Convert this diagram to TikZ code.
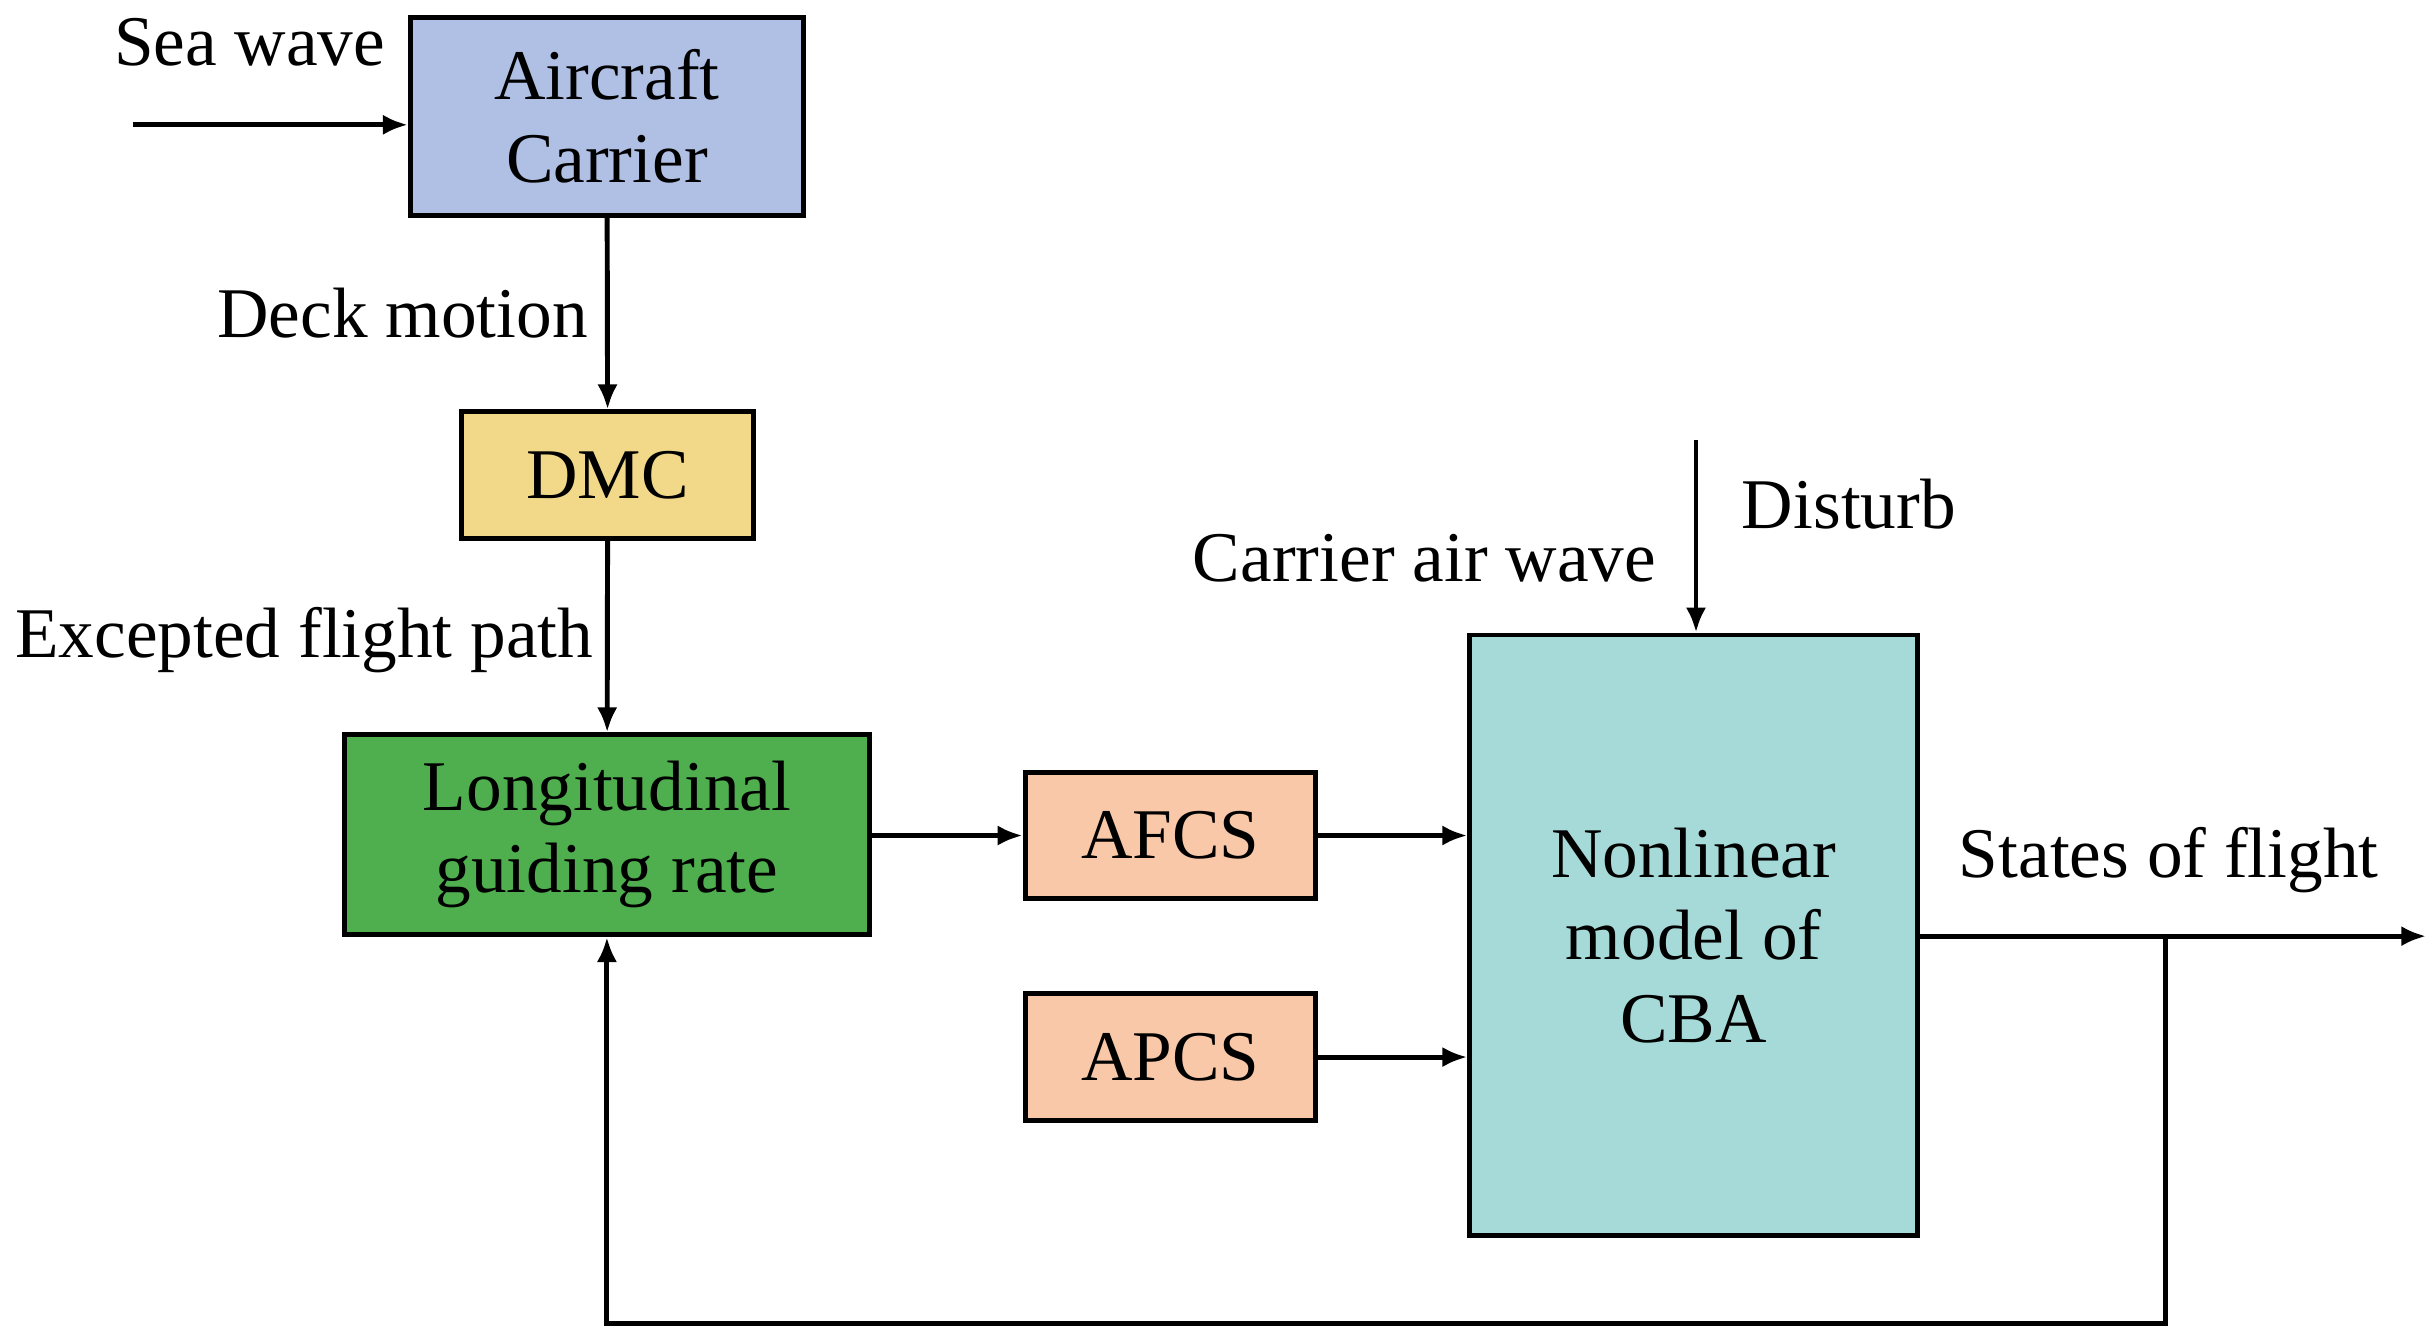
\documentclass[tikz,border=0pt]{standalone}
\usepackage{fontspec}
\setmainfont{Liberation Serif}
\usetikzlibrary{arrows.meta}
\begin{document}
\begin{tikzpicture}[x=0.1mm,y=-0.1mm,
  box/.style={draw,line width=0.9pt,inner sep=0pt,align=center,font=\fontsize{13}{15}\selectfont},
  lbl/.style={font=\fontsize{13}{15}\selectfont,inner sep=0pt},
  ln/.style={line width=0.9pt},
  ar/.style={ln,-{Latex[length=1.6mm,width=1.3mm]}}]
\useasboundingbox (0,0) rectangle (1560,860);
\definecolor{cA}{HTML}{B0C0E4}\definecolor{cD}{HTML}{F2D98A}
\definecolor{cL}{HTML}{4FAF4F}\definecolor{cF}{HTML}{F8C8A8}
\definecolor{cN}{HTML}{A6DAD8}
\node[box,fill=cA,minimum width=252*0.1mm,minimum height=127*0.1mm] (ac) at (389,74.5) {Aircraft\\Carrier};
\node[box,fill=cD,minimum width=187*0.1mm,minimum height=81*0.1mm] (dmc) at (389.5,304.5) {DMC};
\node[box,fill=cL,minimum width=336*0.1mm,minimum height=128*0.1mm] (lg) at (389,535) {Longitudinal\\guiding rate};
\node[box,fill=cF,minimum width=186*0.1mm,minimum height=81*0.1mm] (afcs) at (750,535.5) {AFCS};
\node[box,fill=cF,minimum width=186*0.1mm,minimum height=81*0.1mm] (apcs) at (750,677.5) {APCS};
\node[box,fill=cN,minimum width=287*0.1mm,minimum height=385*0.1mm] (nl) at (1085.5,599.5) {Nonlinear\\model of\\CBA};
\node[lbl] (sw) at (160,27) {Sea wave};
\node[lbl] (dm) at (258,201) {Deck motion};
\node[lbl] (ef) at (195,410) {Excepted flight path};
\node[lbl] (ds) at (1185,323) {Disturb};
\node[lbl] (ca) at (913,358) {Carrier air wave};
\node[lbl] (sf) at (1390,551) {States of flight};
\coordinate (s0) at (85,80);
\coordinate (d0) at (1087,282);
\coordinate (o1) at (1555,600);
\coordinate (f1) at (1388,600);
\coordinate (f2) at (1388,848);
\coordinate (f3) at (389,848);
\draw[ar] (s0) -- (s0 -| ac.west);
\draw[ar] (ac) -- (dmc);
\draw[ar] (dmc) -- (lg);
\draw[ar] (lg.east |- afcs) -- (afcs);
\draw[ar] (afcs) -- (afcs -| nl.west);
\draw[ar] (apcs) -- (apcs -| nl.west);
\draw[ar] (d0) -- (d0 |- nl.north);
\draw[ar] (nl.east |- o1) -- (o1);
\draw[ar] (f1) -- (f2) -- (f3) -- (lg.south);
\end{tikzpicture}
\end{document}
